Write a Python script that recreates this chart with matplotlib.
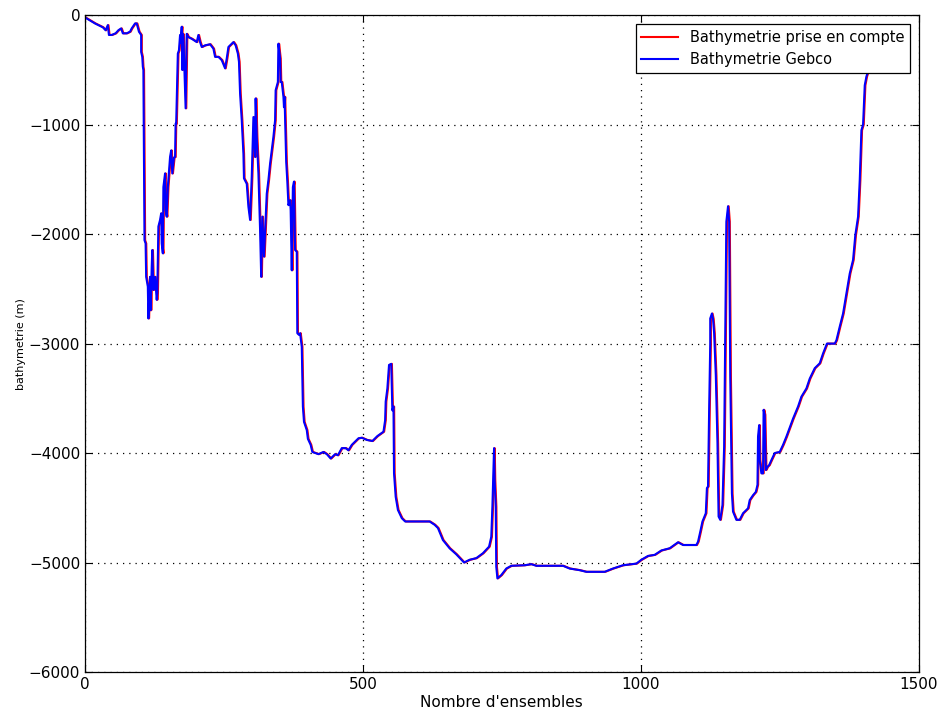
import matplotlib
matplotlib.use("Agg")
import matplotlib.pyplot as plt

# ensemble index / depth (m)
ens = [0, 18, 32, 37, 41, 43, 48, 55, 60, 65, 68, 75, 81, 84, 90, 93, 97, 101, 101, 103, 104, 105,
       107, 109, 110, 113, 114, 117, 118, 120, 121, 123, 126, 129, 130, 132, 135, 137, 138, 140, 141,
       144, 145, 147, 149, 153, 155, 157, 160, 162, 163, 164, 167, 169, 171, 172, 174, 175, 176, 177,
       181, 183, 186, 192, 201, 204, 207, 210, 216, 225, 231, 234, 240, 246, 252, 255, 258, 267, 271,
       275, 277, 279, 282, 285, 286, 291, 294, 297, 300, 303, 306, 307, 309, 312, 315, 317, 319, 322,
       325, 327, 330, 333, 339, 342, 343, 347, 348, 351, 352, 354, 357, 358, 359, 362, 364, 366, 369,
       370, 372, 374, 376, 378, 381, 382, 385, 387, 390, 392, 394, 399, 401, 406, 409, 420, 429, 435,
       442, 450, 455, 462, 469, 474, 480, 492, 498, 507, 517, 526, 537, 540, 541, 544, 547, 551, 553,
       555, 556, 559, 563, 570, 576, 620, 629, 635, 644, 656, 668, 682, 692, 704, 716, 727, 731, 733,
       736, 737, 739, 740, 742, 749, 758, 767, 791, 803, 812, 860, 872, 890, 902, 935, 950, 968, 992,
       1001, 1013, 1025, 1037, 1052, 1067, 1076, 1100, 1103, 1107, 1111, 1117, 1119, 1121, 1123, 1125,
       1125, 1128, 1130, 1132, 1135, 1138, 1140, 1143, 1147, 1150, 1152, 1154, 1157, 1159, 1161, 1164,
       1166, 1172, 1178, 1184, 1193, 1196, 1202, 1207, 1210, 1211, 1213, 1214, 1217, 1220, 1221, 1223,
       1225, 1228, 1231, 1235, 1241, 1250, 1256, 1262, 1274, 1283, 1289, 1298, 1304, 1313, 1322, 1328,
       1335, 1349, 1352, 1358, 1364, 1370, 1376, 1382, 1386, 1391, 1394, 1397, 1400, 1403, 1406, 1411]
prof = [-20, -75, -110, -137, -90, -180, -180, -165, -137, -120, -165, -165, -150, -120, -75, -75,
        -150, -180, -335, -380, -470, -500, -2055, -2085, -2390, -2480, -2770, -2390, -2695, -2300,
        -2145, -2510, -2390, -2600, -2540, -1930, -1870, -1810, -2085, -2175, -1570, -1445, -1780,
        -1840, -1570, -1295, -1235, -1445, -1300, -1295, -990, -990, -350, -320, -180, -250, -105,
        -500, -170, -200, -850, -170, -200, -215, -245, -180, -245, -290, -275, -265, -305, -380,
        -380, -410, -485, -395, -290, -245, -275, -350, -425, -715, -960, -1265, -1490, -1540, -1750,
        -1870, -1475, -930, -1295, -760, -1110, -1445, -1965, -2390, -1840, -2205, -1870, -1630,
        -1505, -1355, -1110, -960, -685, -610, -260, -395, -610, -610, -745, -840, -745, -1340, -1520,
        -1735, -1690, -1780, -2330, -1570, -1520, -2145, -2160, -2905, -2920, -2905, -3030, -3575,
        -3715, -3790, -3870, -3925, -3990, -4010, -3990, -4010, -4050, -4010, -4020, -3955, -3955,
        -3975, -3925, -3865, -3860, -3880, -3890, -3845, -3805, -3700, -3530, -3410, -3195, -3185,
        -3610, -3575, -4185, -4400, -4520, -4595, -4625, -4625, -4655, -4685, -4795, -4870, -4925,
        -5000, -4975, -4960, -4915, -4855, -4765, -4490, -3955, -4245, -4490, -5040, -5145, -5115,
        -5055, -5030, -5025, -5015, -5030, -5030, -5055, -5070, -5085, -5085, -5055, -5025, -5010,
        -4975, -4940, -4930, -4890, -4870, -4815, -4840, -4840, -4810, -4720, -4625, -4550, -4320,
        -4305, -3605, -3000, -2770, -2725, -2775, -2905, -3290, -3910, -4580, -4610, -4475, -3940,
        -2860, -1885, -1745, -1885, -3300, -4370, -4535, -4610, -4610, -4550, -4505, -4430, -4385,
        -4355, -4290, -3850, -3745, -4065, -4185, -4185, -3605, -3650, -4155, -4125, -4110, -4065,
        -4000, -3990, -3925, -3850, -3685, -3575, -3485, -3410, -3320, -3225, -3180, -3090, -3000,
        -3000, -2970, -2845, -2725, -2540, -2360, -2235, -2010, -1840, -1505, -1050, -1000, -640,
        -560, -480]

fig = plt.figure(figsize=(9.5, 7.27), dpi=100)
ax = fig.add_axes([0.0895, 0.0757, 0.8775, 0.9033])

# red curve sits just under the blue one, only a few bits peek out
ens_red = [e + 1.2 for e in ens]
ax.plot(ens_red, prof, color='red', lw=1.5, label='Bathymetrie prise en compte')
ax.plot(ens, prof, color='blue', lw=1.5, label='Bathymetrie Gebco')

ax.set_xlim(0, 1500)
ax.set_ylim(-6000, 0)
ax.set_xticks([0, 500, 1000, 1500])
ax.set_yticks([-6000, -5000, -4000, -3000, -2000, -1000, 0])
ax.tick_params(direction='in', labelsize=11, length=5, top=True, right=True)
ax.grid(True, color='black', linestyle=(0, (1, 4)), linewidth=0.9)
for s in ax.spines.values():
    s.set_linewidth(0.9)

ax.set_xlabel("Nombre d'ensembles", fontsize=11, labelpad=2)
ax.set_ylabel("bathymetrie (m)", fontsize=8, labelpad=2)

leg = ax.legend(loc='upper right', fontsize=10.5, fancybox=False, framealpha=1,
                edgecolor='black', borderaxespad=0.6, handlelength=2.5)
leg.get_frame().set_linewidth(0.9)

fig.savefig("out.png", dpi=100)
